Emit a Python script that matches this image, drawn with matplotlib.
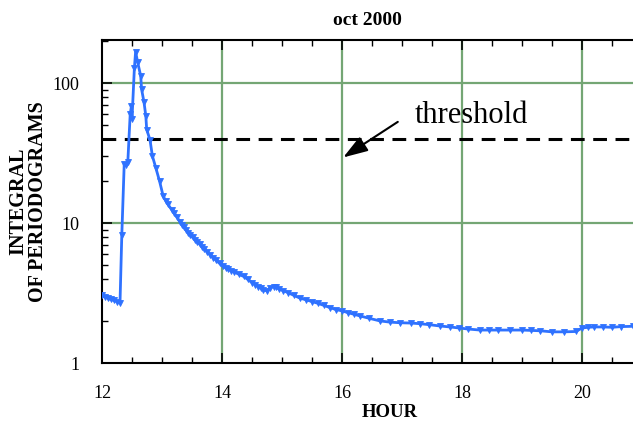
import matplotlib
matplotlib.use("Agg")
import matplotlib.pyplot as plt
from matplotlib.ticker import MultipleLocator, LogLocator, NullFormatter, FixedLocator

hours = [12.0, 12.05, 12.1, 12.15, 12.2, 12.25, 12.3, 12.33, 12.37, 12.4, 12.43,
         12.47, 12.49, 12.5, 12.54, 12.56, 12.595, 12.645, 12.66, 12.70, 12.73,
         12.745, 12.8, 12.84, 12.9, 12.96, 13.02, 13.06, 13.1, 13.16, 13.2, 13.25,
         13.3, 13.33, 13.37, 13.4, 13.44, 13.47, 13.51, 13.55, 13.59, 13.63, 13.67,
         13.7, 13.75, 13.8, 13.85, 13.9, 13.96, 14.02, 14.06, 14.1, 14.15, 14.2,
         14.28, 14.36, 14.43, 14.5, 14.55, 14.6, 14.65, 14.69, 14.75, 14.8, 14.86,
         14.9, 14.95, 15.02, 15.1, 15.2, 15.3, 15.4, 15.5, 15.6, 15.7, 15.8, 15.9,
         16.0, 16.1, 16.2, 16.3, 16.45, 16.63, 16.8, 16.97, 17.15, 17.3, 17.45,
         17.63, 17.8, 17.95, 18.1, 18.3, 18.45, 18.6, 18.8, 19.0, 19.15, 19.3,
         19.5, 19.7, 19.9, 20.0, 20.1, 20.2, 20.35, 20.5, 20.65, 20.85]
values = [3.04, 2.96, 2.90, 2.85, 2.80, 2.75, 2.69, 8.2, 26.3, 25.9, 27.3,
          60.3, 68.4, 55.8, 129, 168, 141, 113, 90.6, 73.3, 58.6,
          46.7, 39.4, 30.2, 24.6, 19.9, 15.6, 14.5, 13.6, 12.5, 11.85, 11.0,
          10.25, 9.78, 9.31, 8.93, 8.56, 8.27, 7.9, 7.61, 7.33, 7.05, 6.76,
          6.58, 6.24, 5.96, 5.67, 5.44, 5.15, 4.91, 4.79, 4.67, 4.58, 4.48,
          4.31, 4.16, 3.96, 3.76, 3.64, 3.52, 3.43, 3.33, 3.28, 3.43, 3.52,
          3.48, 3.38, 3.29, 3.19, 3.04, 2.91, 2.83, 2.75, 2.67, 2.58, 2.49, 2.41,
          2.36, 2.29, 2.23, 2.17, 2.09, 2.0, 1.96, 1.94, 1.93, 1.91, 1.88,
          1.84, 1.81, 1.78, 1.75, 1.72, 1.72, 1.72, 1.72, 1.72, 1.71, 1.70,
          1.67, 1.67, 1.68, 1.78, 1.80, 1.81, 1.81, 1.80, 1.82, 1.83]

threshold = 40
x_ticks = [12, 14, 16, 18, 20]
y_ticks = [1, 10, 100]
y_tick_labels = ["1", "10", "100"]

plt.rcParams['font.family'] = ['Liberation Serif', 'DejaVu Serif']

fig = plt.figure(figsize=(6.33, 4.24), dpi=100)
ax = fig.add_axes([102/633, 61/424, 1 - 102/633, 323/424])

grid_color = '#74a674'
for xv in x_ticks[1:]:
    ax.axvline(xv, color=grid_color, lw=1.6, zorder=1)
for yv in y_ticks[1:]:
    ax.axhline(yv, color=grid_color, lw=1.6, zorder=1)

ax.axhline(threshold, color='black', lw=2.2, dashes=(4.5, 2.8), zorder=3)

ax.plot(hours, values, color='#2f72ff', lw=2.0, marker='v', markersize=4,
        markeredgewidth=0.6, zorder=4)

ax.set_yscale('log')
ax.set_xlim(12, 20.85)
ax.set_ylim(1, 204)

ax.xaxis.set_major_locator(FixedLocator(x_ticks))
ax.xaxis.set_minor_locator(MultipleLocator(0.5))
ax.yaxis.set_major_locator(FixedLocator(y_ticks))
ax.set_yticklabels(y_tick_labels)
ax.yaxis.set_minor_locator(LogLocator(base=10, subs=range(2, 10)))
ax.yaxis.set_minor_formatter(NullFormatter())

ax.tick_params(axis='both', which='major', direction='in', length=7, width=1.2,
               labelsize=13, top=True)
ax.tick_params(axis='both', which='minor', direction='in', length=4, width=1.0, top=True)
ax.tick_params(axis='x', which='major', pad=16)
ax.tick_params(axis='y', which='major', pad=16)

for s in ['left', 'bottom', 'top']:
    ax.spines[s].set_linewidth(1.5)
ax.spines['right'].set_visible(False)

ax.set_title('oct 2000', fontsize=14, fontweight='bold', pad=11)
ax.set_xlabel('HOUR', fontsize=13.5, fontweight='bold')
ax.xaxis.set_label_coords((390 - 102) / 531, -41 / 323)
ax.set_ylabel('INTEGRAL\nOF PERIODOGRAMS', fontsize=14.5, fontweight='bold',
              linespacing=0.95)
ax.yaxis.set_label_coords(-(102 - 48) / 531, 0.5)

ax.text(17.22, 52, 'threshold', fontsize=22, ha='left', va='baseline', zorder=5)
ax.annotate('', xy=(16.02, 29.5), xytext=(16.93, 53),
            arrowprops=dict(arrowstyle='-|>,head_length=1.5,head_width=0.5',
                            color='black', lw=1.5, shrinkA=0, shrinkB=0), zorder=5)

fig.savefig('out.png', dpi=100)
